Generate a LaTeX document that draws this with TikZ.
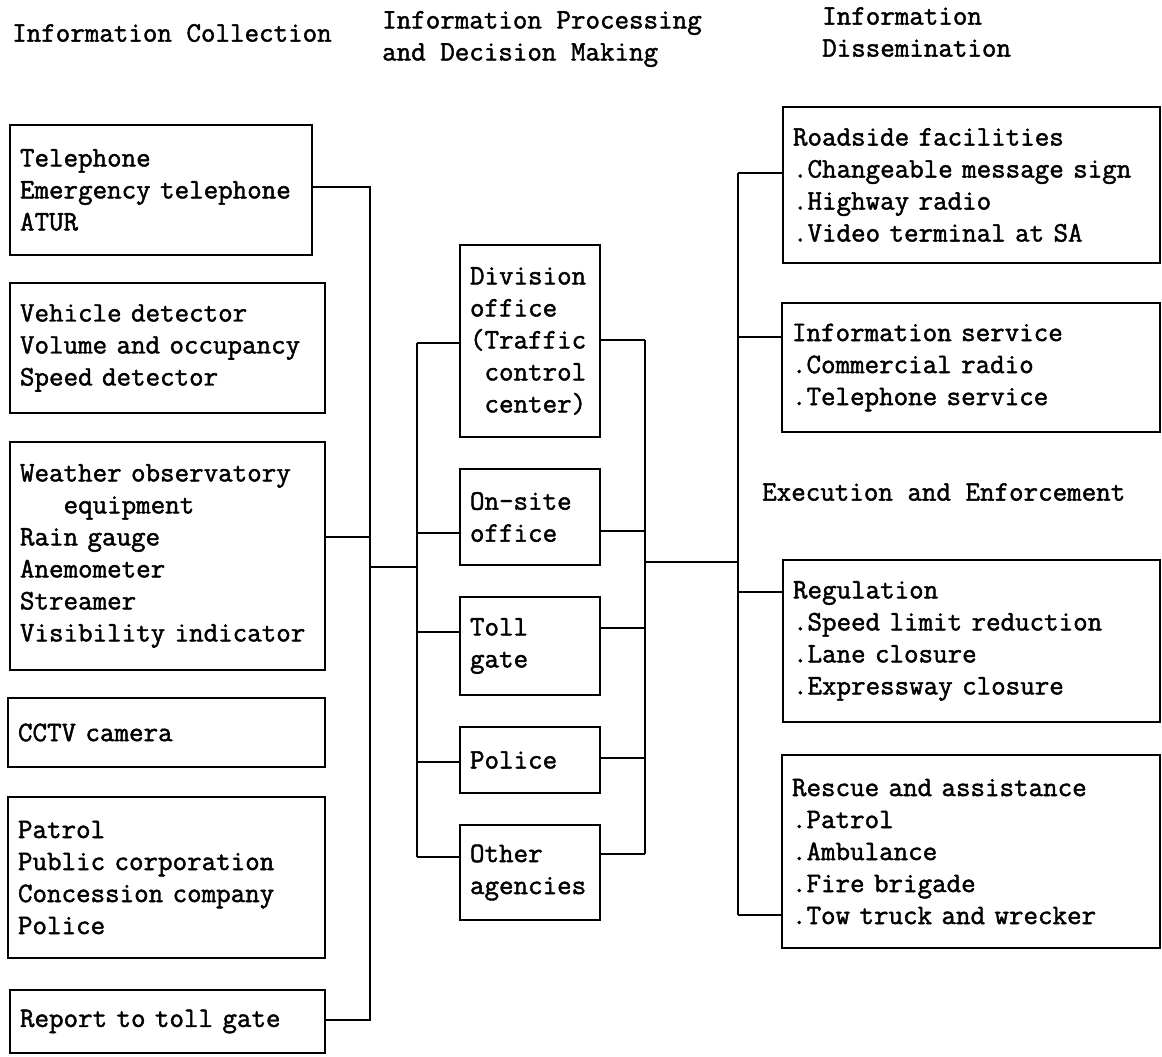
\documentclass[tikz,border=0pt]{standalone}
\usepackage{fontspec}
\newfontfamily\typefont[FakeBold=1.6]{Latin Modern Mono}
\tikzset{
  txt/.style={font=\typefont\fontsize{28.2}{32}\selectfont},
  box/.style={txt, draw, line width=1.6pt, inner xsep=10pt, inner ysep=0pt, align=left},
  head/.style={txt, inner sep=0pt, align=left, anchor=west},
  link/.style={line width=1.6pt},
}
% box with corners (x1,y1)-(x2,y2), text left aligned and vertically centred
\newcommand\mkbox[6]{%
  \pgfmathsetmacro\boxh{#5-#3}%
  \pgfmathsetmacro\boxtw{#4-#2-20}%
  \node[box, text width=\boxtw pt, minimum height=\boxh pt] (#1)
    at ({(#2+#4)/2},{(#3+#5)/2}) {#6};}
\begin{document}
\begin{tikzpicture}[x=1pt, y=-1pt]
\useasboundingbox (0,0) rectangle (1162,1057);

% column headings
\node[head] (h1) at (12,33) {Information Collection};
\node[head] (h2) at (382,39) {Information Processing\\and Decision Making};
\node[head] (h3) at (822,32) {Information\\Dissemination};
\node[head] (h4) at (762,492) {Execution and Enforcement};

% information collection
\mkbox{tel}{10}{125}{312}{255}{Telephone\\Emergency telephone\\ATUR}
\mkbox{veh}{10}{283}{325}{413}{Vehicle detector\\Volume and occupancy\\Speed detector}
\mkbox{wea}{10}{442}{325}{670}{Weather observatory\\\hphantom{xxx}equipment\\Rain gauge\\Anemometer\\Streamer\\Visibility indicator}
\mkbox{cctv}{8}{698}{325}{767}{CCTV camera}
\mkbox{pat}{8}{797}{325}{958}{Patrol\\Public corporation\\Concession company\\Police}
\mkbox{rep}{10}{990}{325}{1053}{Report to toll gate}

% processing and decision making
\mkbox{div}{460}{245}{600}{437}{Division\\office\\(Traffic\\\hphantom{(}control\\\hphantom{(}center)}
\mkbox{ons}{460}{469}{600}{565}{On-site\\office}
\mkbox{toll}{460}{597}{600}{695}{Toll\\gate}
\mkbox{pol}{460}{727}{600}{793}{Police}
\mkbox{oth}{460}{825}{600}{920}{Other\\agencies}

% dissemination, execution and enforcement
\mkbox{road}{783}{107}{1160}{263}{Roadside facilities\\.Changeable message sign\\.Highway radio\\.Video terminal at SA}
\mkbox{info}{782}{303}{1160}{432}{Information service\\.Commercial radio\\.Telephone service}
\mkbox{reg}{783}{560}{1160}{722}{Regulation\\.Speed limit reduction\\.Lane closure\\.Expressway closure}
\mkbox{res}{782}{755}{1160}{948}{Rescue and assistance\\.Patrol\\.Ambulance\\.Fire brigade\\.Tow truck and wrecker}

% bus junctions
\coordinate (lbT) at (370,187);
\coordinate (lbW) at (370,537);
\coordinate (lbC) at (370,567);
\coordinate (lbB) at (370,1020);
\coordinate (mlC) at (417,567);
\coordinate (ml1) at (417,343);
\coordinate (ml2) at (417,533);
\coordinate (ml3) at (417,632);
\coordinate (ml4) at (417,762);
\coordinate (ml5) at (417,857);
\coordinate (mr1) at (645,340);
\coordinate (mr2) at (645,531);
\coordinate (mr3) at (645,628);
\coordinate (mr4) at (645,758);
\coordinate (mr5) at (645,854);
\coordinate (mrC) at (645,562);
\coordinate (rbC) at (738,562);
\coordinate (rb1) at (738,173);
\coordinate (rb2) at (738,337);
\coordinate (rb3) at (738,592);
\coordinate (rb4) at (738,915);

% collection bus
\draw[link] (tel.east |- lbT) -- (lbT) -- (lbB) -- (rep.east |- lbB);
\draw[link] (wea.east |- lbW) -- (lbW);
\draw[link] (lbC) -- (mlC);

% processing buses
\draw[link] (ml1) -- (ml5);
\foreach \b/\c in {div/ml1, ons/ml2, toll/ml3, pol/ml4, oth/ml5}
  \draw[link] (\c) -- (\b.west |- \c);
\draw[link] (mr1) -- (mr5);
\foreach \b/\c in {div/mr1, ons/mr2, toll/mr3, pol/mr4, oth/mr5}
  \draw[link] (\b.east |- \c) -- (\c);
\draw[link] (mrC) -- (rbC);

% dissemination bus
\draw[link] (rb1) -- (rb4);
\foreach \b/\c in {road/rb1, info/rb2, reg/rb3, res/rb4}
  \draw[link] (\c) -- (\b.west |- \c);
\end{tikzpicture}
\end{document}
